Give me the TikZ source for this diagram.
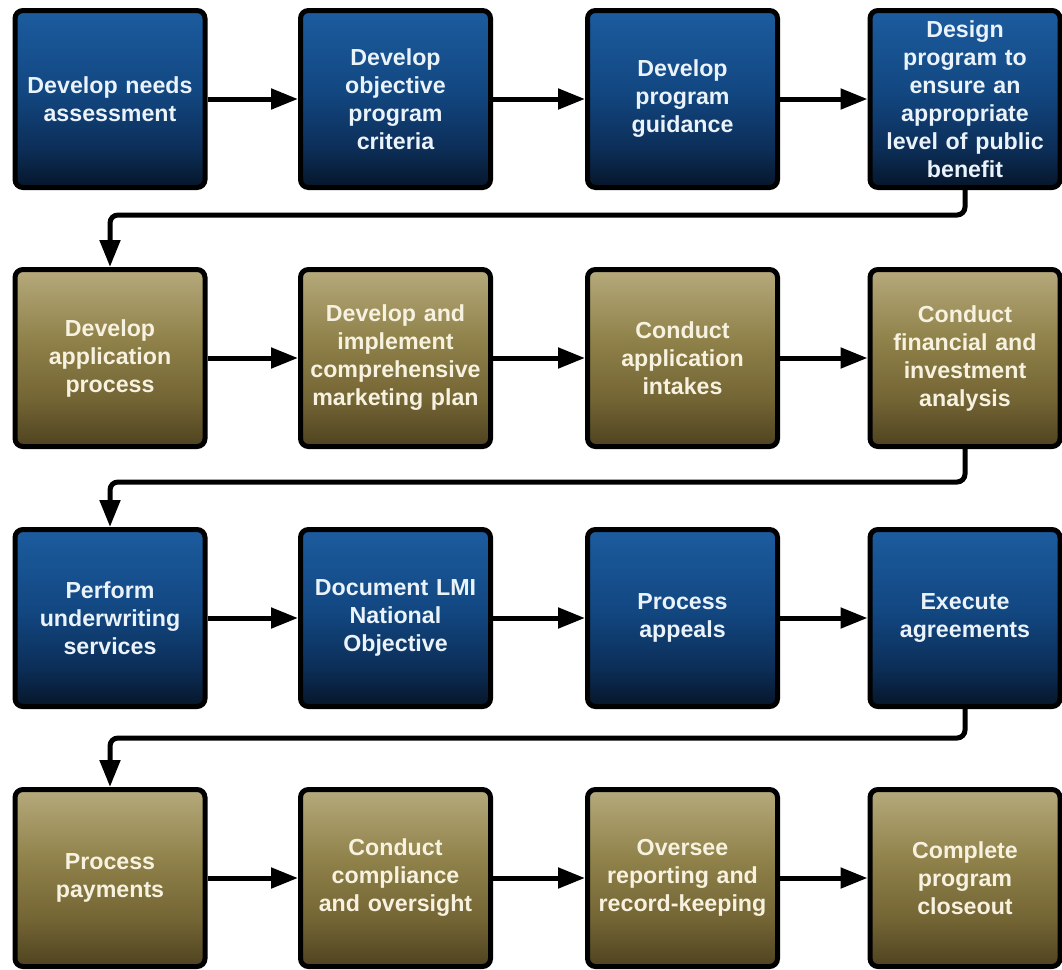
\documentclass[tikz,border=0pt]{standalone}
\usepackage{fontspec}
\setmainfont{Liberation Sans}
\usetikzlibrary{arrows.meta}
\definecolor{bluetop}{HTML}{1C5C9F}
\definecolor{bluemid}{HTML}{124781}
\definecolor{bluelow}{HTML}{0C2E58}
\definecolor{bluebot}{HTML}{061629}
\definecolor{tantop}{HTML}{B6AA7C}
\definecolor{tanmid}{HTML}{8F8149}
\definecolor{tanlow}{HTML}{736434}
\definecolor{tanbot}{HTML}{4E4320}
\definecolor{bluetext}{HTML}{EAF2FA}
\definecolor{tantext}{HTML}{F7F2E0}
\pgfdeclareverticalshading{blueshade}{100bp}{color(0bp)=(bluebot); color(25bp)=(bluebot); color(36bp)=(bluelow); color(52bp)=(bluemid); color(75bp)=(bluetop); color(100bp)=(bluetop)}
\pgfdeclareverticalshading{tanshade}{100bp}{color(0bp)=(tanbot); color(25bp)=(tanbot); color(38bp)=(tanlow); color(55bp)=(tanmid); color(75bp)=(tantop); color(100bp)=(tantop)}
\begin{document}
\begin{tikzpicture}[x=1pt,y=-1pt,
  box/.style={draw=black, line width=5pt, rounded corners=8pt,
    minimum width=190pt, minimum height=177pt, inner sep=0pt,
    text width=184pt, align=center,
    font=\bfseries\fontsize{23.2}{28}\selectfont},
  bluebox/.style={box, shading=blueshade, text=bluetext},
  tanbox/.style={box, shading=tanshade, text=tantext},
  conn/.style={line width=5pt, rounded corners=8pt,
    -{Triangle[length=27pt,width=20pt]}}]
\useasboundingbox (0,0) rectangle (1062,969);
% row 1
\node[bluebox] (a1) at (110,99) {Develop needs\\assessment};
\node[bluebox] (a2) at (395.5,99) {Develop\\objective\\program\\criteria};
\node[bluebox] (a3) at (682.5,99) {Develop\\program\\guidance};
\node[bluebox] (a4) at (965,99) {Design\\program to\\ensure an\\appropriate\\level of public\\benefit};
% row 2
\node[tanbox] (b1) at (110,358) {Develop\\application\\process};
\node[tanbox] (b2) at (395.5,358) {Develop and\\implement\\comprehensive\\marketing plan};
\node[tanbox] (b3) at (682.5,358) {Conduct\\application\\intakes};
\node[tanbox] (b4) at (965,358) {Conduct\\financial and\\investment\\analysis};
% row 3
\node[bluebox] (c1) at (110,618) {Perform\\underwriting\\services};
\node[bluebox] (c2) at (395.5,618) {Document LMI\\National\\Objective};
\node[bluebox] (c3) at (682.5,618) {Process\\appeals};
\node[bluebox] (c4) at (965,618) {Execute\\agreements};
% row 4
\node[tanbox] (d1) at (110,878) {Process\\payments};
\node[tanbox] (d2) at (395.5,878) {Conduct\\compliance\\and oversight};
\node[tanbox] (d3) at (682.5,878) {Oversee\\reporting and\\record-keeping};
\node[tanbox] (d4) at (965,878) {Complete\\program\\closeout};
% turn coordinates
\coordinate (k1) at (0,215);
\coordinate (k2) at (0,482);
\coordinate (k3) at (0,738);
% connectors
\foreach \r in {a,b,c,d}{
  \draw[conn] (\r1) -- (\r2);
  \draw[conn] (\r2) -- (\r3);
  \draw[conn] (\r3) -- (\r4);
}
\draw[conn] (a4.south) -- (a4.south |- k1) -| (b1.north);
\draw[conn] (b4.south) -- (b4.south |- k2) -| (c1.north);
\draw[conn] (c4.south) -- (c4.south |- k3) -| (d1.north);
\end{tikzpicture}
\end{document}
